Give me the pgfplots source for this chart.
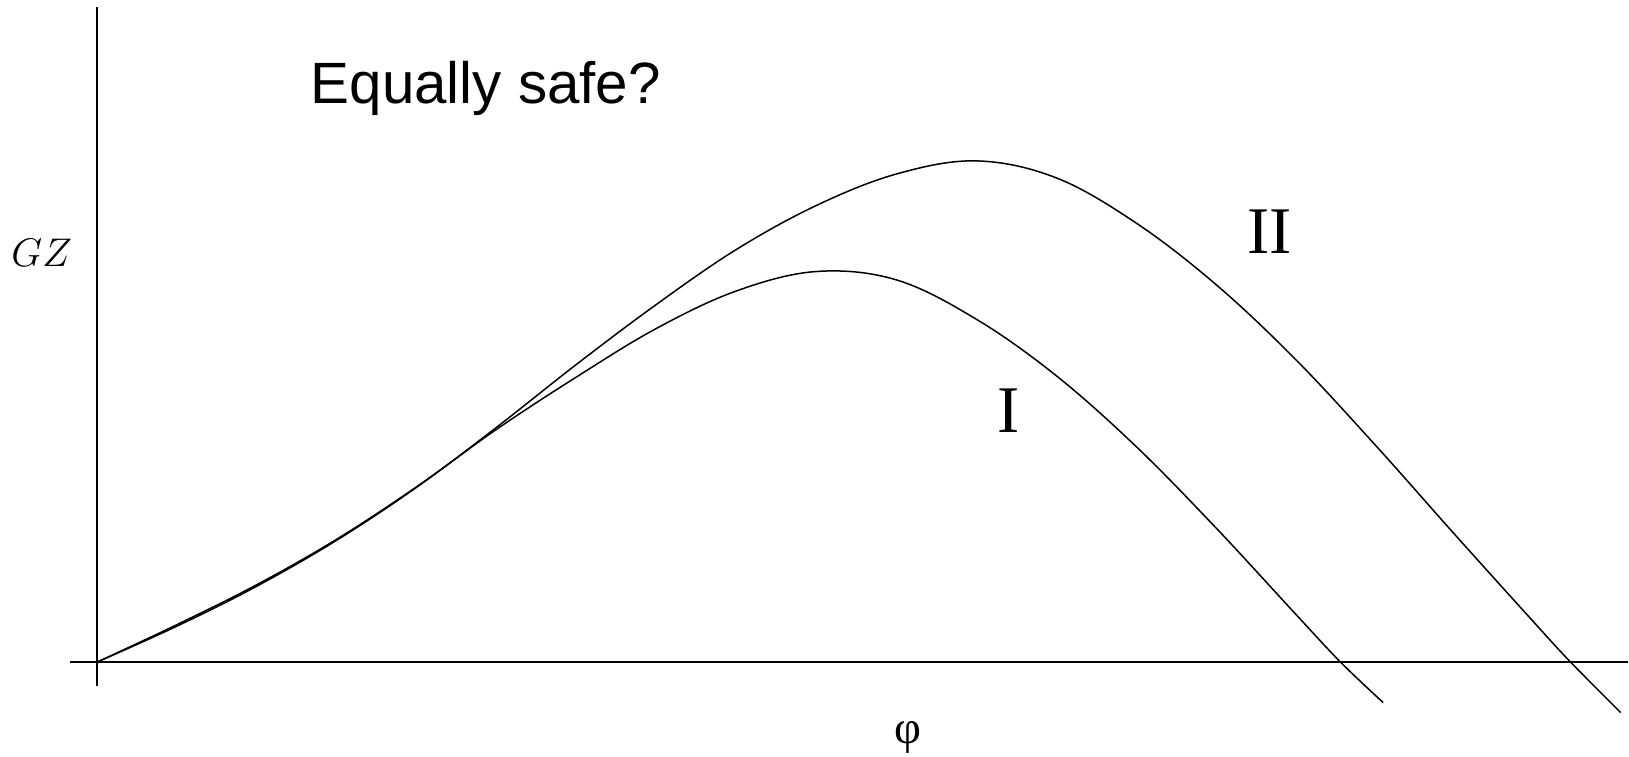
\documentclass[border=0pt]{standalone}
\usepackage{pgfplots}
\pgfplotsset{compat=1.18}
\usepackage{fontspec}
\setmainfont{Liberation Serif}
\newfontfamily\arialfont{Liberation Sans}

\begin{document}
\begin{tikzpicture}
\begin{axis}[
  x=0.3pt, y=0.3pt,
  xmin=-96.7, xmax=1532.3,
  ymin=-94.3, ymax=662.7,
  hide axis,
  clip=false,
]
% page extent
\addplot[draw=none] coordinates {(-96.7,-94.3) (1532.3,662.7)};

% axes through the origin
\addplot[black, line width=0.6pt] coordinates {(-26.5,0) (1532.3,0)};
\addplot[black, line width=0.6pt] coordinates {(0,-24) (0,655.7)};

% righting-lever curve I
\addplot[black, line width=0.45pt, smooth, tension=0.6] coordinates {
  (0,0) (80,37.5) (160,77.5) (240,123.0) (320,175.5) (400,233.0)
  (480,285.4) (560,334.0) (640,371.5) (720,391.0) (800,382.7)
  (880,343.4) (960,286.9) (1040,216.0) (1120,134.5) (1200,47.9)
  (1244.8,0) (1287.3,-40.3)
};

% righting-lever curve II
\addplot[black, line width=0.45pt, smooth, tension=0.6] coordinates {
  (0,0) (80,36.0) (160,76.0) (240,122.0) (320,175.0) (400,235.0)
  (480,298.0) (560,358.0) (640,413.0) (720,457.0) (800,488.5)
  (880,501.7) (960,484.8) (1040,439.6) (1120,378.0) (1200,302.7)
  (1280,216.7) (1360,126.7) (1440,38.0) (1475,0) (1525,-50.3)
};

\node[anchor=base west, inner sep=0pt, font=\arialfont\fontsize{17.5}{20}\selectfont]
  at (axis cs:213.6,558.7) {Equally safe?};
\node[anchor=base, inner sep=0pt, font=\fontsize{12.5}{14}\selectfont]
  at (axis cs:-55,395.7) {$GZ$};
\node[anchor=base, inner sep=0pt, font=\fontsize{20}{24}\selectfont]
  at (axis cs:912.3,230.4) {I};
\node[anchor=base, inner sep=0pt, font=\fontsize{20}{24}\selectfont]
  at (axis cs:1173.3,409.4) {II};
\node[anchor=center, inner sep=0pt, font=\fontsize{14}{16}\selectfont]
  at (axis cs:811.5,-74.8) {φ};
\end{axis}
\end{tikzpicture}
\end{document}
